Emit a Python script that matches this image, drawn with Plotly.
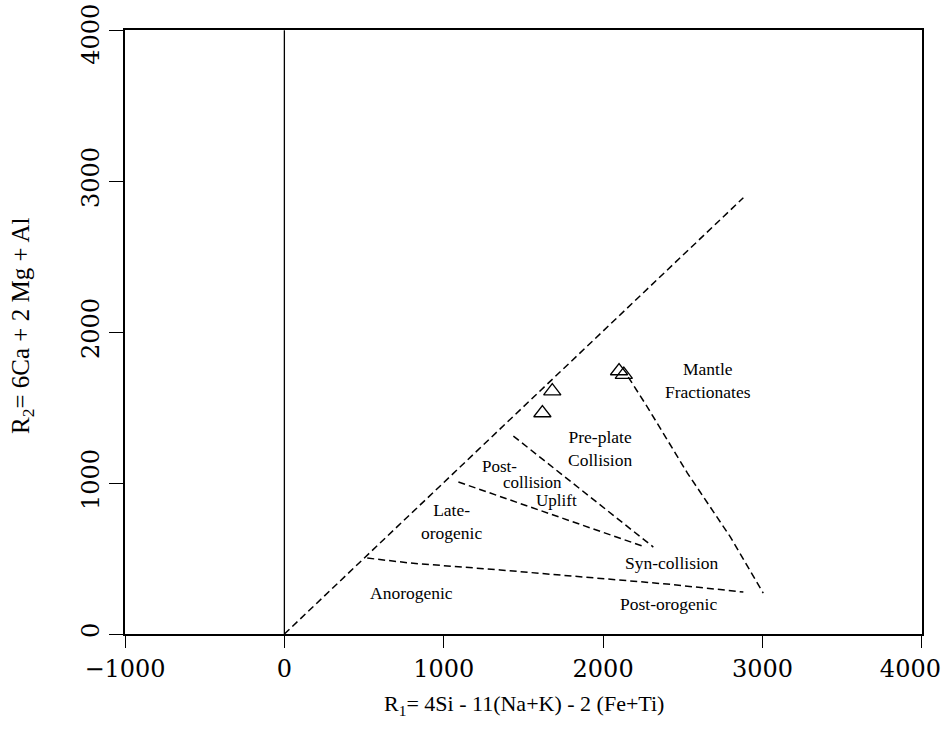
import plotly.graph_objects as go

# Boundary lines (R1, R2)
diag_x = [0, 2880]
diag_y = [0, 2890]
anoro_x = [520, 790, 1355, 1982, 2400, 2880]
anoro_y = [503, 470, 424, 371, 331, 278]
late_x = [1092, 1562, 2265]
late_y = [1007, 834, 576]
preplate_x = [1437, 2315]
preplate_y = [1311, 576]
mantle_x = [2158, 2278, 2529, 2799, 3005]
mantle_y = [1702, 1503, 1066, 642, 271]
zero_x = [0, 0]
zero_y = [0, 4000]

# Samples
sample_x = [1681, 1619, 2100, 2130]
sample_y = [1609, 1464, 1742, 1718]

# Field labels
label_text = ["Mantle<br>Fractionates", "Pre-plate<br>Collision", "Post-", "collision", "Uplift",
              "Late-<br>orogenic", "Syn-collision", "Anorogenic", "Post-orogenic"]
label_x = [2660, 1982, 1350, 1555, 1710, 1050, 2435, 800, 2410]
label_y = [1680, 1232, 1110, 1003, 885, 745, 470, 270, 200]
label_size = [17.5, 17.5, 17, 17, 17, 17.5, 17.5, 17.5, 17.5]

NB = "\u00a0"
tick_vals_x = [-1000, 0, 1000, 2000, 3000, 4000]
tick_text_x = ["\u22121000", "0", "1000", "2000", "3000", "4000" + NB * 3]
tick_vals_y = [0, 1000, 2000, 3000, 4000]
tick_text_y = ["0", "1000", "2000", "3000", "4000" + NB * 2]

fig = go.Figure()
dash = "7px,4px"
for xs, ys in [(diag_x, diag_y), (anoro_x, anoro_y), (late_x, late_y),
               (preplate_x, preplate_y), (mantle_x, mantle_y)]:
    fig.add_trace(go.Scatter(x=xs, y=ys, mode="lines",
                             line=dict(color="black", width=1.5, dash=dash),
                             hoverinfo="skip", showlegend=False))
fig.add_trace(go.Scatter(x=zero_x, y=zero_y, mode="lines",
                         line=dict(color="black", width=1.3), showlegend=False))
fig.add_trace(go.Scatter(x=sample_x, y=sample_y, mode="markers",
                         marker=dict(symbol="triangle-up-open", size=15,
                                     color="black", line=dict(width=1.3)),
                         showlegend=False))

for t, x, y, s in zip(label_text, label_x, label_y, label_size):
    fig.add_annotation(x=x, y=y, text=t, showarrow=False,
                       font=dict(family="Liberation Serif", size=s, color="black"),
                       align="center")

fig.add_annotation(xref="paper", yref="paper", x=0.5, y=-0.118, yanchor="middle",
                   text="R<sub>1</sub>= 4Si - 11(Na+K) - 2 (Fe+Ti)", showarrow=False,
                   font=dict(family="Liberation Serif", size=22, color="black"))
fig.add_annotation(xref="paper", yref="paper", x=-0.128, y=0.51, xanchor="center",
                   yanchor="middle", textangle=-90,
                   text="R<sub>2</sub>= 6Ca + 2 Mg + Al", showarrow=False,
                   font=dict(family="Liberation Serif", size=25, color="black"))

axis_common = dict(showline=True, linecolor="black", linewidth=2, mirror=True,
                   showgrid=False, zeroline=False, ticks="outside", automargin=False,
                   tickcolor="black", tickwidth=1.2, ticklabeloverflow="allow",
                   tickfont=dict(family="DejaVu Serif", size=24, color="black"))
fig.update_xaxes(range=[-1000, 4001], tickvals=tick_vals_x, ticktext=tick_text_x,
                 ticklen=12, **axis_common)
fig.update_yaxes(range=[0, 4001], tickvals=tick_vals_y, ticktext=tick_text_y,
                 ticklen=14, tickangle=-90, **axis_common)

fig.update_layout(width=946, height=742, margin=dict(l=125, r=24, t=30, b=108),
                  plot_bgcolor="white", paper_bgcolor="white")
fig.write_html("out.html")
